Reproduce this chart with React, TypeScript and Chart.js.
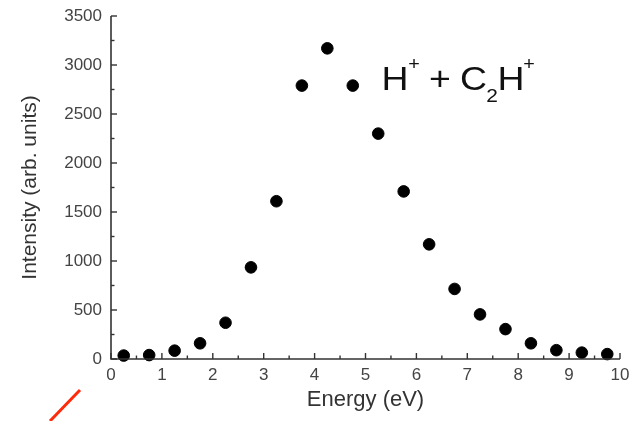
import React, { useEffect, useRef } from "react";
import { Chart, registerables } from "chart.js";

Chart.register(...registerables);

const energies = [0.25, 0.75, 1.25, 1.75, 2.25, 2.75, 3.25, 3.75, 4.25, 4.75, 5.25, 5.75, 6.25, 6.75, 7.25, 7.75, 8.25, 8.75, 9.25, 9.75];
const intensities = [35, 40, 85, 160, 370, 935, 1610, 2790, 3170, 2790, 2300, 1710, 1170, 715, 455, 305, 160, 90, 65, 50];

const xMin = 0;
const xMax = 10;
const xStep = 1;
const yMin = 0;
const yMax = 3500;
const yStep = 500;

const xTitle = "Energy (eV)";
const yTitle = "Intensity (arb. units)";

// annotation "H+ + C2H+": text, role, glyph centre offset (px) from anchor
const labelPieces: [string, "main" | "sup" | "sub", number][] = [
  ["H", "main", 12],
  ["+", "sup", 31],
  ["+", "main", 57],
  ["C", "main", 90.5],
  ["2", "sub", 109],
  ["H", "main", 128],
  ["+", "sup", 146],
];
const labelAnchor = { x: 5.344, y: 2745 };

const FONT = "'Liberation Sans', Arial, Helvetica, sans-serif";

const axesPlugin = {
  id: "axesPlugin",
  afterDraw(chart: any) {
    const { ctx, chartArea, scales } = chart;
    const x = scales.x;
    const y = scales.y;
    ctx.save();
    ctx.strokeStyle = "#333";
    ctx.lineWidth = 1.6;
    ctx.beginPath();
    ctx.moveTo(chartArea.left, chartArea.top);
    ctx.lineTo(chartArea.left, chartArea.bottom);
    ctx.lineTo(chartArea.right, chartArea.bottom);
    ctx.stroke();
    ctx.lineWidth = 1.4;
    for (let v = xMin; v <= xMax + 1e-9; v += xStep / 2) {
      const px = x.getPixelForValue(v);
      const major = Math.abs(v / xStep - Math.round(v / xStep)) < 1e-9;
      const len = major ? 6 : 3.5;
      ctx.beginPath();
      ctx.moveTo(px, chartArea.bottom);
      ctx.lineTo(px, chartArea.bottom - len);
      ctx.stroke();
    }
    for (let v = yMin; v <= yMax + 1e-9; v += yStep / 2) {
      const py = y.getPixelForValue(v);
      const major = Math.abs(v / yStep - Math.round(v / yStep)) < 1e-9;
      const len = major ? 6 : 3.5;
      ctx.beginPath();
      ctx.moveTo(chartArea.left, py);
      ctx.lineTo(chartArea.left + len, py);
      ctx.stroke();
    }
    ctx.restore();

    const ax = x.getPixelForValue(labelAnchor.x);
    const ay = y.getPixelForValue(labelAnchor.y);
    ctx.save();
    ctx.fillStyle = "#111";
    ctx.textBaseline = "alphabetic";
    ctx.textAlign = "center";
    for (const [t, role, off] of labelPieces) {
      let size = 34;
      let dy = 0;
      if (role === "sup") {
        size = 18;
        dy = -20;
      } else if (role === "sub") {
        size = 19;
        dy = 12;
      }
      ctx.save();
      ctx.translate(ax + off, ay + dy);
      ctx.scale(1.1, 1);
      ctx.font = `${size}px ${FONT}`;
      ctx.fillText(t, 0, 0);
      ctx.restore();
    }
    ctx.restore();

    ctx.save();
    ctx.strokeStyle = "#ff2a0a";
    ctx.lineWidth = 3;
    ctx.beginPath();
    ctx.moveTo(50, 421);
    ctx.lineTo(80, 390);
    ctx.stroke();
    ctx.restore();
  },
};

export default function App() {
  const ref = useRef<HTMLCanvasElement>(null);

  useEffect(() => {
    if (!ref.current) return;
    const chart = new Chart(ref.current, {
      type: "scatter",
      data: {
        datasets: [
          {
            data: energies.map((e, i) => ({ x: e, y: intensities[i] })),
            backgroundColor: "#000",
            borderColor: "#000",
            pointRadius: 5.8,
            pointHoverRadius: 5.8,
            clip: false as any,
          },
        ],
      },
      options: {
        responsive: false,
        animation: false,
        events: [],
        layout: { padding: { top: 16, right: 20, left: 0, bottom: 0 } },
        plugins: {
          legend: { display: false },
          tooltip: { enabled: false },
        },
        scales: {
          x: {
            type: "linear",
            min: xMin,
            max: xMax,
            grid: { display: false, drawTicks: false },
            border: { display: false },
            ticks: {
              stepSize: xStep,
              padding: 6,
              color: "#444",
              font: { family: FONT, size: 17 },
              maxRotation: 0,
              callback: (v: any) => String(v),
            },
            title: {
              display: true,
              text: xTitle,
              color: "#333",
              font: { family: FONT, size: 22 },
              padding: { top: 0, bottom: 8 },
            },
            afterFit: (s: any) => {
              s.height = 62;
              s.paddingLeft = 0;
              s.paddingRight = 0;
            },
          },
          y: {
            type: "linear",
            min: yMin,
            max: yMax,
            grid: { display: false, drawTicks: false },
            border: { display: false },
            ticks: {
              stepSize: yStep,
              padding: 9,
              color: "#444",
              font: { family: FONT, size: 17 },
              callback: (v: any) => String(v),
            },
            title: {
              display: true,
              text: yTitle,
              color: "#333",
              font: { family: FONT, size: 21 },
              padding: { top: 18, bottom: 0 },
            },
            afterFit: (s: any) => {
              s.width = 111;
              s.paddingTop = 0;
              s.paddingBottom = 0;
            },
          },
        },
      },
      plugins: [axesPlugin],
    });
    return () => chart.destroy();
  }, []);

  return (
    <div style={{ position: "absolute", left: 0, top: 0, width: 640, height: 421, background: "#fff" }}>
      <canvas ref={ref} width={640} height={421} style={{ display: "block" }} />
    </div>
  );
}
